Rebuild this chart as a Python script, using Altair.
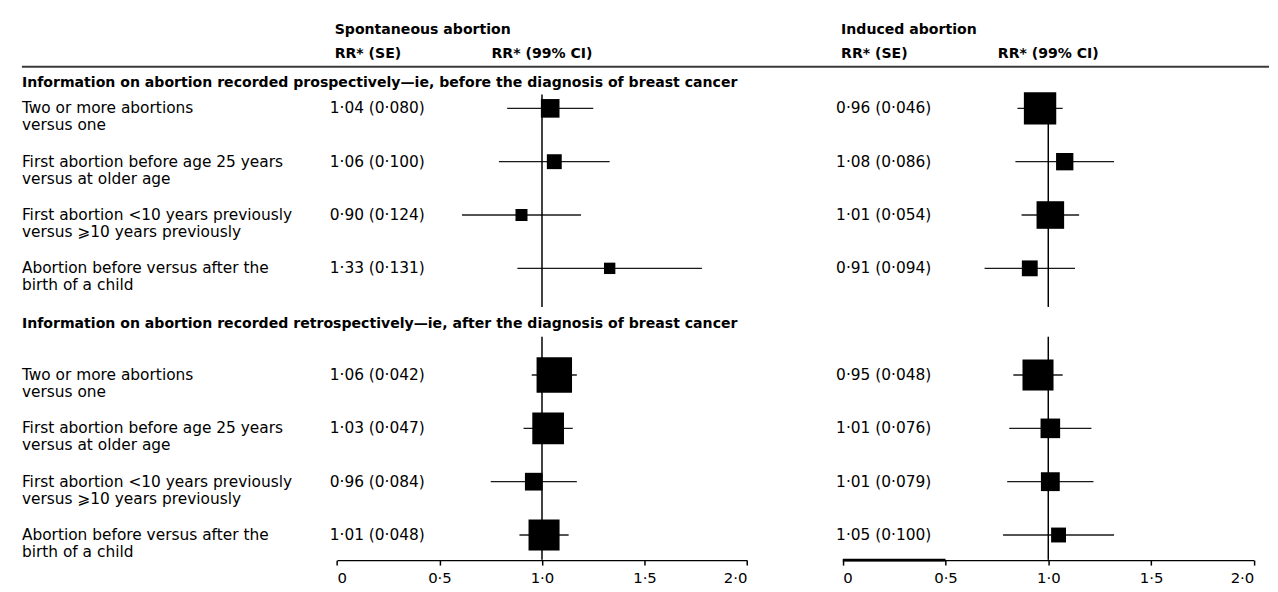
import altair as alt
import pandas as pd

# ---------------- data ----------------
labels_line1 = [
    "Two or more abortions",
    "First abortion before age 25 years",
    "First abortion <10 years previously",
    "Abortion before versus after the",
]
labels_line2 = [
    "versus one",
    "versus at older age",
    "versus ⩾10 years previously",
    "birth of a child",
]
section_titles = [
    "Information on abortion recorded prospectively—ie, before the diagnosis of breast cancer",
    "Information on abortion recorded retrospectively—ie, after the diagnosis of breast cancer",
]
panel_titles = ["Spontaneous abortion", "Induced abortion"]

# first 4 = prospective, last 4 = retrospective
spon_rr = [1.04, 1.06, 0.90, 1.33, 1.06, 1.03, 0.96, 1.01]
spon_se = [0.080, 0.100, 0.124, 0.131, 0.042, 0.047, 0.084, 0.048]
spon_lo = [0.83, 0.79, 0.61, 0.88, 0.95, 0.91, 0.75, 0.89]
spon_hi = [1.25, 1.33, 1.19, 1.78, 1.17, 1.15, 1.17, 1.13]

ind_rr = [0.96, 1.08, 1.01, 0.91, 0.95, 1.01, 1.01, 1.05]
ind_se = [0.046, 0.086, 0.054, 0.094, 0.048, 0.076, 0.079, 0.100]
ind_lo = [0.85, 0.84, 0.87, 0.69, 0.83, 0.81, 0.80, 0.78]
ind_hi = [1.07, 1.32, 1.15, 1.13, 1.07, 1.21, 1.22, 1.32]

tick_values = [0, 0.5, 1.0, 1.5, 2.0]
ref_value = [1.0]

# ---------------- tables ----------------
ROW_IDS = ["p0", "p1", "p2", "p3", "r0", "r1", "r2", "r3"]
ROW_DOMAIN = ["p0", "p1", "p2", "p3", "gap", "r0", "r1", "r2", "r3"]


def dotfmt(v, d):
    return f"{v:.{d}f}".replace(".", "·")


rows = []
for panel, rr, se, lo, hi in [
    ("spon", spon_rr, spon_se, spon_lo, spon_hi),
    ("ind", ind_rr, ind_se, ind_lo, ind_hi),
]:
    for i in range(8):
        rows.append(
            dict(
                panel=panel,
                rid=ROW_IDS[i],
                rr=rr[i],
                se=se[i],
                lo=lo[i],
                hi=hi[i],
                txt=f"{dotfmt(rr[i], 2)} ({dotfmt(se[i], 3)})",
            )
        )
df = pd.DataFrame(rows)

df_labels = pd.DataFrame(
    dict(
        rid=ROW_IDS,
        label1=labels_line1 * 2,
        label2=labels_line2 * 2,
    )
)
df_ref = pd.DataFrame(dict(ref=ref_value))
df_seg = pd.DataFrame(dict(a=[tick_values[0]], b=[tick_values[1]]))

FONT = "DejaVu Sans"
FS = 15.5
BFS = 14.2

NOVIEW = alt.ViewBackground(stroke="transparent", strokeWidth=0)

yenc = alt.Y(
    "rid:N",
    scale=alt.Scale(type="point", domain=ROW_DOMAIN, range=[99, 528.7], padding=0),
    axis=None,
)


def static_text(txt, x, y, bold=False, align="left", size=None):
    return (
        alt.Chart(alt.Data(values=[{"t": txt}]))
        .mark_text(
            align=align,
            baseline="middle",
            font=FONT,
            fontSize=size if size else (BFS if bold else FS),
            fontWeight="bold" if bold else "normal",
            color="black",
        )
        .encode(x=alt.value(x), y=alt.value(y), text="t:N")
    )


# ---------------- labels column ----------------
lab1 = (
    alt.Chart(df_labels)
    .mark_text(align="left", baseline="middle", font=FONT, fontSize=FS, color="black")
    .encode(x=alt.value(14), y=yenc, text="label1:N")
)
lab2 = (
    alt.Chart(df_labels)
    .mark_text(align="left", baseline="middle", font=FONT, fontSize=FS, color="black", dy=17)
    .encode(x=alt.value(14), y=yenc, text="label2:N")
)

sec1 = static_text(section_titles[0], 14, 73.7, bold=True)
sec2 = static_text(section_titles[1], 14, 316, bold=True)

top_rule = (
    alt.Chart(alt.Data(values=[{}]))
    .mark_rule(color="#3a3a3a", strokeWidth=2)
    .encode(x=alt.value(14), x2=alt.value(1270), y=alt.value(57))
)

LABEL_EXPR = "datum.value == 0 ? '0' : replace(format(datum.value, '.1f'), '.', '·')"


def panel(name, title, x_range, text_x, thick_seg=False):
    xs = alt.Scale(domain=[0, 2], range=x_range, nice=False, zero=False)
    ax = alt.Axis(
        values=tick_values,
        orient="bottom",
        labelExpr=LABEL_EXPR,
        title=None,
        grid=False,
        domainColor="black",
        domainWidth=1.5,
        tickColor="black",
        tickWidth=1.5,
        tickSize=5,
        labelFont=FONT,
        labelFontSize=15,
        labelColor="black",
        labelPadding=6,
    )
    src = alt.Chart(df).transform_filter(f"datum.panel == '{name}'")
    ci = src.mark_rule(color="#1a1a1a", strokeWidth=1.3).encode(
        x=alt.X("lo:Q", scale=xs, axis=ax), x2="hi:Q", y=yenc
    )
    sq = (
        src.transform_calculate(w="1/(datum.se*datum.se)")
        .mark_square(color="black", opacity=1)
        .encode(
            x=alt.X("rr:Q", scale=xs, axis=ax),
            y=yenc,
            size=alt.Size(
                "w:Q",
                scale=alt.Scale(type="linear", domain=[0, 600], range=[0, 1350]),
                legend=None,
            ),
        )
    )
    ref_top = (
        alt.Chart(df_ref)
        .mark_rule(color="black", strokeWidth=1.5)
        .encode(x=alt.X("ref:Q", scale=xs, axis=ax), y=alt.value(85), y2=alt.value(299))
    )
    ref_bot = (
        alt.Chart(df_ref)
        .mark_rule(color="black", strokeWidth=1.5)
        .encode(x=alt.X("ref:Q", scale=xs, axis=ax), y=alt.value(329), y2=alt.value(553.7))
    )
    ci_head = (
        alt.Chart(df_ref)
        .mark_text(align="center", baseline="middle", font=FONT, fontSize=BFS,
                   fontWeight="bold", color="black", text="RR* (99% CI)")
        .encode(x=alt.X("ref:Q", scale=xs, axis=ax), y=alt.value(44))
    )
    vals = (
        src.mark_text(align="left", baseline="middle", font=FONT, fontSize=FS, color="black")
        .encode(x=alt.value(text_x), y=yenc, text="txt:N")
    )
    h1 = static_text(title, text_x + 5, 20, bold=True)
    h2 = static_text("RR* (SE)", text_x + 5, 44, bold=True)
    layers = [ci, ref_top, ref_bot, sq, ci_head, vals, h1, h2]
    if thick_seg:
        seg = (
            alt.Chart(df_seg)
            .mark_rule(color="black", strokeWidth=3)
            .encode(x=alt.X("a:Q", scale=xs, axis=ax), x2="b:Q", y=alt.value(554))
        )
        layers.append(seg)
    return alt.layer(*layers)


left = panel("spon", panel_titles[0], [331.3, 744.3], 324)
right = panel("ind", panel_titles[1], [840.7, 1254.7], 834, thick_seg=True)

chart = (
    alt.layer(top_rule, sec1, sec2, lab1, lab2, left, right)
    .resolve_scale(x="independent")
    .properties(width=1262, height=554, padding=0, view=NOVIEW)
    .configure_view(stroke="transparent", strokeWidth=0)
    .configure(background="white")
)

chart.save("out.html", embed_options={"renderer": "svg", "actions": False})
